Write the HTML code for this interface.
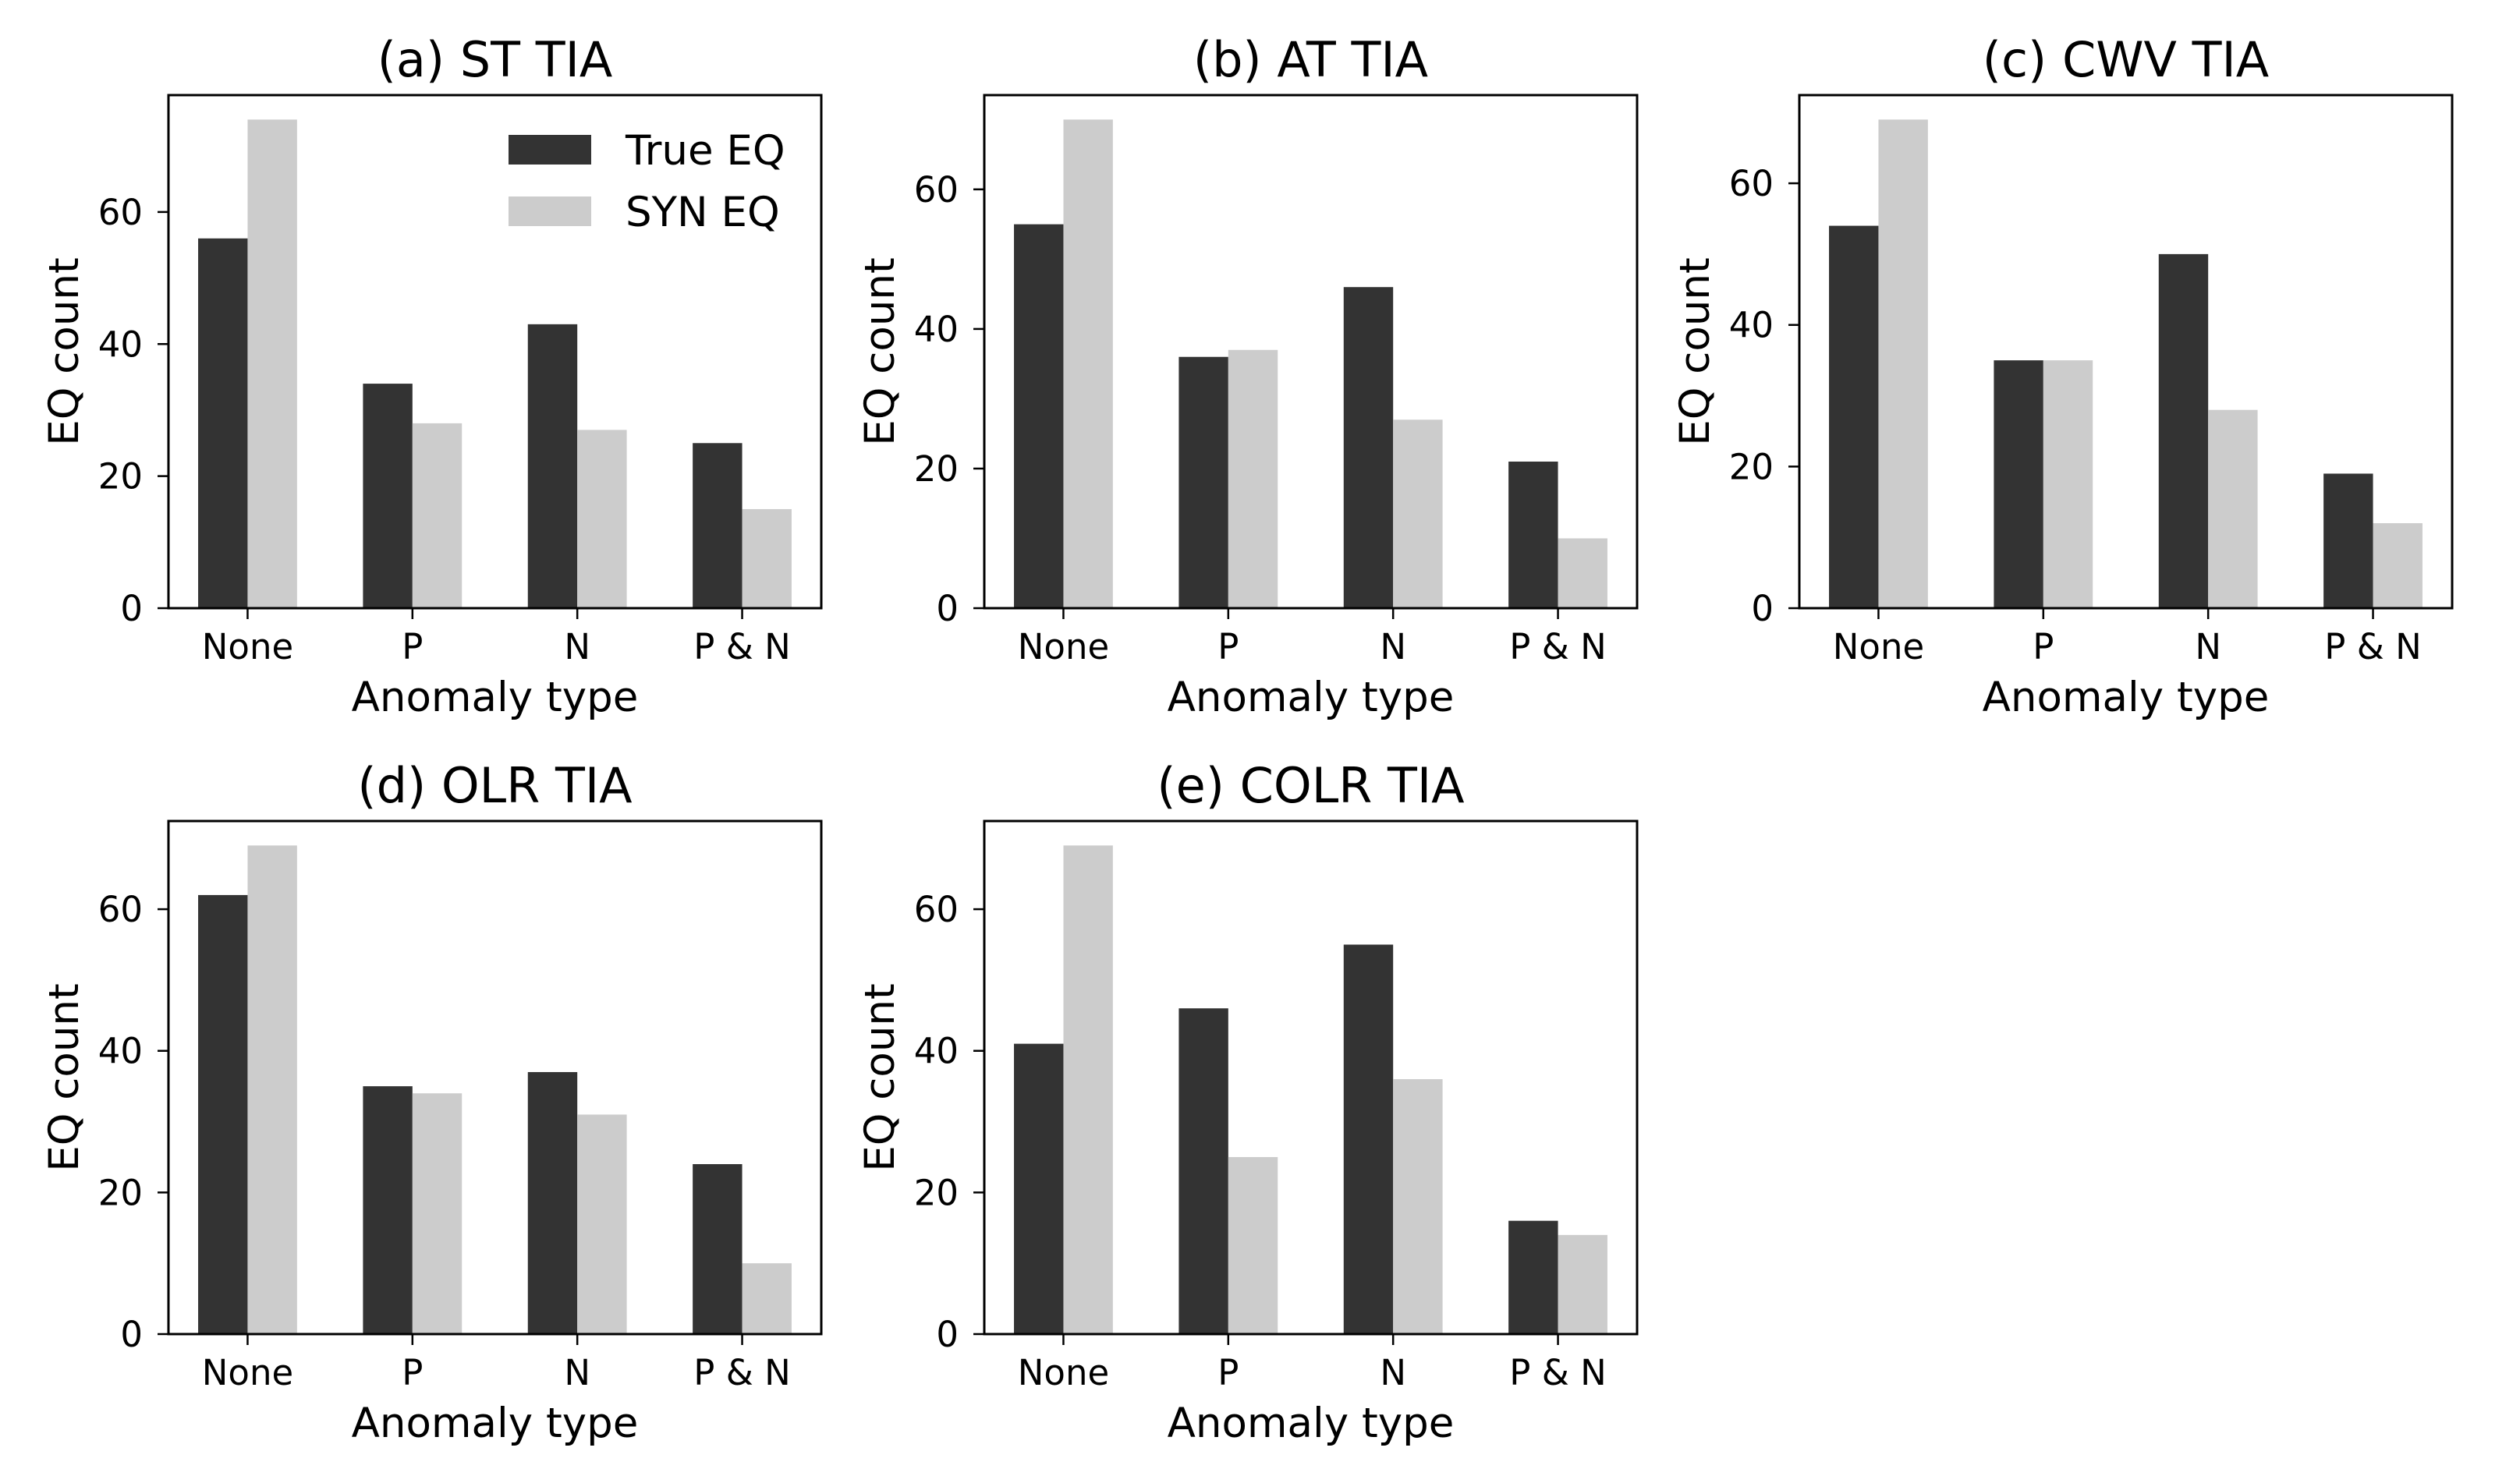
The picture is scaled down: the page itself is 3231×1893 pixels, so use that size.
<!DOCTYPE html>
<html><head><meta charset="utf-8"><style>
html,body{margin:0;padding:0;background:#fff;}
svg{display:block;font-family:"DejaVu Sans","Liberation Sans",sans-serif;}
</style></head><body>
<svg id="fig" width="3231" height="1893" viewBox="0 0 3231 1893" xmlns="http://www.w3.org/2000/svg"></svg>
<script>
const categories = ["None", "P", "N", "P & N"];
const titles = ["(a) ST TIA", "(b) AT TIA", "(c) CWV TIA", "(d) OLR TIA", "(e) COLR TIA"];
const trueA = [56, 34, 43, 25];
const synA  = [74, 28, 27, 15];
const trueB = [55, 36, 46, 21];
const synB  = [70, 37, 27, 10];
const trueC = [54, 35, 50, 19];
const synC  = [69, 35, 28, 12];
const trueD = [62, 35, 37, 24];
const synD  = [69, 34, 31, 10];
const trueE = [41, 46, 55, 16];
const synE  = [69, 25, 36, 14];
const yTicks = [0, 20, 40, 60];
const seriesTrue = [trueA, trueB, trueC, trueD, trueE];
const seriesSyn = [synA, synB, synC, synD, synE];

const NS = "http://www.w3.org/2000/svg";
const svg = document.getElementById("fig");
function mk(tag, attrs, parent) {
  const el = document.createElementNS(NS, tag);
  for (const k in attrs) el.setAttribute(k, attrs[k]);
  (parent || svg).appendChild(el);
  return el;
}
const panelPos = [[216,122],[1262,122],[2307,122],[216,1053],[1262,1053]];
const W = 837, H = 658;
const names = ["st","at","cwv","olr","colr"];

for (let p = 0; p < 5; p++) {
  const [L, T] = panelPos[p];
  const tv = seriesTrue[p], sv = seriesSyn[p];
  const ymax = Math.max(...tv, ...sv) * 1.05;
  const xmin = -0.48, xmax = 3.48;
  const xs = v => L + (v - xmin) / (xmax - xmin) * W;
  const ys = v => T + H - v / ymax * H;
  const g = mk("g", {});
  
  

  const title = mk("text", {x: L + W/2, y: T - 24, "font-size": 62, "text-anchor": "middle", fill: "#000"}, g);
  title.textContent = titles[p];
  
  

  for (let i = 0; i < categories.length; i++) {
    const b1 = mk("rect", {x: xs(i - 0.3), y: ys(tv[i]), width: xs(i) - xs(i - 0.3), height: ys(0) - ys(tv[i]), fill: "#333333"}, g);
    
    
    const b2 = mk("rect", {x: xs(i), y: ys(sv[i]), width: xs(i + 0.3) - xs(i), height: ys(0) - ys(sv[i]), fill: "#cccccc"}, g);
    
    
    mk("line", {x1: xs(i), x2: xs(i), y1: T + H, y2: T + H + 14, stroke: "#000", "stroke-width": 2.5}, g);
    const tl = mk("text", {x: xs(i), y: T + H + 65, "font-size": 45, "text-anchor": "middle", fill: "#000"}, g);
    tl.textContent = categories[i];
    
    
  }
  for (const t of yTicks) {
    mk("line", {x1: L - 14, x2: L, y1: ys(t), y2: ys(t), stroke: "#000", "stroke-width": 2.5}, g);
    const yl = mk("text", {x: L - 33, y: ys(t) + 16, "font-size": 45, "text-anchor": "end", fill: "#000"}, g);
    yl.textContent = t;
    
    
  }
  const frame = mk("rect", {x: L, y: T, width: W, height: H, fill: "none", stroke: "#000", "stroke-width": 3}, g);
  
  

  const xl = mk("text", {x: L + W/2, y: T + H + 132, "font-size": 53, "text-anchor": "middle", fill: "#000"}, g);
  xl.textContent = "Anomaly type";
  
  
  const cy = T + H/2;
  const yt = mk("text", {x: 0, y: 0, "font-size": 53, "text-anchor": "middle", fill: "#000", transform: `translate(${L - 116},${cy}) rotate(-90)`}, g);
  yt.textContent = "EQ count";
  
  
}

// legend in panel (a)
const lg = mk("g", {});


const lgItems = [["True EQ", "#333333", 173], ["SYN EQ", "#cccccc", 252]];
for (const [label, col, y] of lgItems) {
  const r = mk("rect", {x: 652, y: y, width: 106, height: 38, fill: col}, lg);
  
  
  const t = mk("text", {x: 802, y: y + 38, "font-size": 53, fill: "#000"}, lg);
  t.textContent = label;
  
  
}
</script>
</body></html>
